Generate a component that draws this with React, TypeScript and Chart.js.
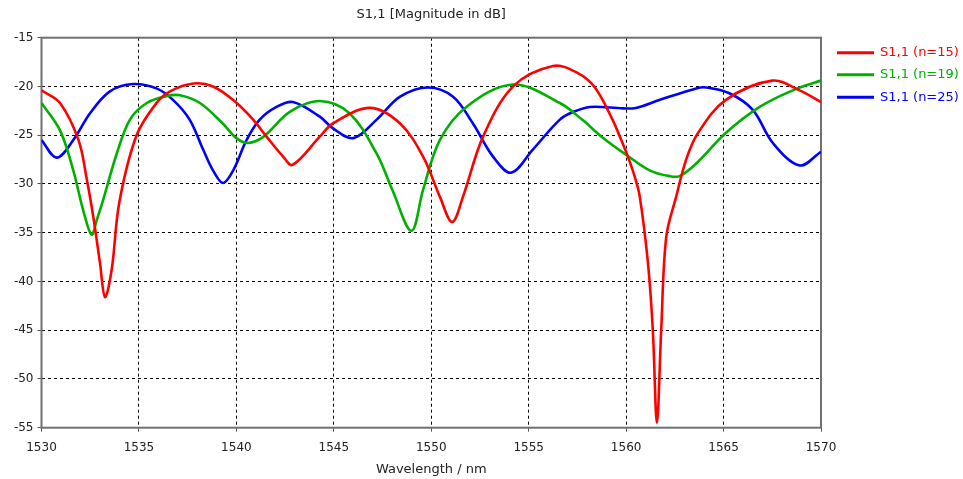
import { useEffect, useRef } from "react";
import { Chart, registerables } from "chart.js";

Chart.register(...registerables);

const chartTitle = "S1,1 [Magnitude in dB]";
const xAxisTitle = "Wavelength / nm";
const xTickValues = [1530, 1535, 1540, 1545, 1550, 1555, 1560, 1565, 1570];
const yTickValues = [-55, -50, -45, -40, -35, -30, -25, -20, -15];

const seriesNames = ["S1,1 (n=15)", "S1,1 (n=19)", "S1,1 (n=25)"];
const seriesColors = ["#ff0000", "#00b000", "#0000ff"];

const wlN15 = [
  1530.0, 1530.95, 1531.9, 1532.3, 1532.66, 1533.0, 1533.26, 1533.6, 1534.0, 1534.88,
  1535.9, 1536.6, 1537.8, 1538.8, 1539.84, 1540.86, 1541.55, 1542.4, 1542.88, 1544.28,
  1544.95, 1546.85, 1548.4, 1549.58, 1550.44, 1551.07, 1551.63, 1552.66, 1554.2, 1556.25,
  1557.5, 1558.4, 1559.3, 1559.75, 1560.09, 1560.44, 1560.7, 1561.12, 1561.37,
  1561.58, 1561.8, 1562.06, 1562.57, 1563.08, 1563.68, 1565.1, 1567.5, 1568.9, 1570.0,
];
const dbN15 = [
  -20.4, -21.7, -25.5, -29.25, -33.4, -38.1, -41.6, -38.8, -31.8, -25.0,
  -21.7, -20.5, -19.7, -20.0, -21.4, -23.4, -25.15, -27.2, -28.05, -25.15,
  -23.8, -22.2, -23.8, -27.2, -31.3, -33.9, -31.3, -25.15, -20.0, -17.9,
  -18.6, -20.1, -23.4, -25.5, -27.2, -29.25, -31.3, -38.1, -45.0,
  -54.5, -45.0, -35.4, -31.3, -27.5, -24.8, -21.4, -19.4, -20.4, -21.6,
];

const wlN19 = [
  1530.0, 1530.95, 1531.63, 1532.14, 1532.57, 1532.85, 1533.17, 1533.86, 1534.54, 1535.4,
  1536.4, 1537.1, 1538.13, 1539.3, 1540.0, 1540.6, 1541.4, 1542.74, 1544.28, 1545.8,
  1547.2, 1548.0, 1548.98, 1549.58, 1550.44, 1551.8, 1554.2, 1556.6, 1557.74, 1558.77,
  1560.0, 1561.2, 1562.23, 1562.74, 1563.6, 1565.1, 1566.85, 1568.55, 1570.0,
];
const dbN19 = [
  -21.7, -24.5, -28.6, -32.7, -35.2, -33.6, -31.6, -26.9, -23.4, -21.7,
  -21.0, -20.9, -21.7, -23.8, -25.3, -25.8, -25.15, -22.6, -21.5, -22.75,
  -26.9, -30.6, -34.8, -30.6, -25.5, -22.1, -19.8, -21.7, -23.4, -25.2,
  -27.0, -28.6, -29.2, -29.2, -27.9, -24.8, -22.1, -20.4, -19.4,
];

const wlN25 = [
  1530.0, 1530.78, 1531.63, 1532.49, 1533.51, 1534.7, 1535.9, 1536.76, 1537.6, 1538.3,
  1538.8, 1539.32, 1539.84, 1540.52, 1541.2, 1542.06, 1542.9, 1544.28, 1544.96, 1546.0,
  1547.2, 1548.4, 1549.84, 1551.12, 1552.14, 1553.17, 1554.1, 1555.2, 1556.6, 1557.3,
  1558.15, 1559.86, 1560.5, 1561.7, 1563.6, 1564.1, 1565.3, 1566.5, 1567.53, 1568.9,
  1570.0,
];
const dbN25 = [
  -25.5, -27.3, -25.5, -22.75, -20.5, -19.75, -20.2, -21.4, -23.4, -26.5,
  -28.6, -29.9, -28.6, -25.5, -23.4, -22.1, -21.6, -23.1, -24.3, -25.3,
  -23.4, -21.05, -20.1, -21.05, -23.8, -27.2, -28.85, -26.5, -23.4, -22.6,
  -22.1, -22.25, -22.2, -21.4, -20.2, -20.1, -20.7, -22.4, -25.8, -28.1,
  -26.7,
];

const allWl = [wlN15, wlN19, wlN25];
const allDb = [dbN15, dbN19, dbN25];

const FONT = "'DejaVu Sans', sans-serif";

const frameAndText = {
  id: "frameAndText",
  beforeDatasetsDraw(chart: any) {
    const { ctx, chartArea } = chart;
    ctx.save();
    ctx.strokeStyle = "#707070";
    ctx.lineWidth = 2;
    ctx.strokeRect(chartArea.left, chartArea.top, chartArea.right - chartArea.left, chartArea.bottom - chartArea.top);
    ctx.restore();
  },
  afterDraw(chart: any) {
    const { ctx, chartArea } = chart;
    ctx.save();
    ctx.font = `13px ${FONT}`;
    ctx.fillStyle = "#222";
    ctx.textAlign = "center";
    ctx.textBaseline = "middle";
    ctx.fillText(chartTitle, (chartArea.left + chartArea.right) / 2, 15);
    const x0 = 837;
    const rows = [52.7, 74.8, 97.3];
    seriesNames.forEach((name, i) => {
      ctx.strokeStyle = seriesColors[i];
      ctx.lineWidth = 3;
      ctx.beginPath();
      ctx.moveTo(x0, rows[i]);
      ctx.lineTo(x0 + 37, rows[i]);
      ctx.stroke();
      ctx.fillStyle = seriesColors[i];
      ctx.textAlign = "left";
      ctx.fillText(name, x0 + 43, rows[i]);
    });
    ctx.restore();
  },
};

export default function App() {
  const ref = useRef<HTMLCanvasElement | null>(null);
  useEffect(() => {
    document.body.style.margin = "0";
    const canvas = ref.current;
    if (!canvas) return;
    const chart = new Chart(canvas, {
      type: "line",
      data: {
        datasets: seriesNames.map((name, i) => ({
          label: name,
          data: allWl[i].map((x, j) => ({ x, y: allDb[i][j] })),
          borderColor: seriesColors[i],
          backgroundColor: seriesColors[i],
          borderWidth: 2.6,
          pointRadius: 0,
          tension: 0.35,
          fill: false,
        })),
      },
      plugins: [frameAndText],
      options: {
        animation: false,
        responsive: false,
        devicePixelRatio: 1,
        layout: { padding: { top: 37.7, right: 142, left: 0, bottom: 0 } },
        plugins: {
          legend: { display: false },
          title: { display: false },
          tooltip: { enabled: false },
        },
        scales: {
          x: {
            type: "linear",
            min: 1530,
            max: 1570,
            afterBuildTicks: (axis: any) => {
              axis.ticks = xTickValues.map((v) => ({ value: v }));
            },
            afterFit: (axis: any) => {
              axis.height = 51.3;
            },
            grid: {
              color: "#000",
              lineWidth: 1,
              tickLength: 4,
              tickColor: "#555",
              tickBorderDash: [],
            },
            border: { display: false, dash: [3, 3] },
            ticks: {
              padding: 9,
              color: "#222",
              font: { family: FONT, size: 12 },
              maxRotation: 0,
              autoSkip: false,
              callback: (v: any) => String(v),
            },
            title: {
              display: true,
              text: xAxisTitle,
              color: "#222",
              font: { family: FONT, size: 13 },
              padding: { top: 0, bottom: 2 },
            },
          },
          y: {
            type: "linear",
            min: -55,
            max: -15,
            afterBuildTicks: (axis: any) => {
              axis.ticks = yTickValues.map((v) => ({ value: v }));
            },
            afterFit: (axis: any) => {
              axis.width = 41.5;
            },
            grid: {
              color: "#000",
              lineWidth: 1,
              tickLength: 4,
              tickColor: "#555",
              tickBorderDash: [],
            },
            border: { display: false, dash: [3, 3] },
            ticks: {
              padding: 4,
              color: "#222",
              font: { family: FONT, size: 12 },
              autoSkip: false,
              callback: (v: any) => String(v),
            },
          },
        },
      },
    } as any);
    return () => chart.destroy();
  }, []);
  return (
    <div style={{ width: 963, height: 479 }}>
      <canvas ref={ref} width={963} height={479} style={{ display: "block" }} />
    </div>
  );
}
